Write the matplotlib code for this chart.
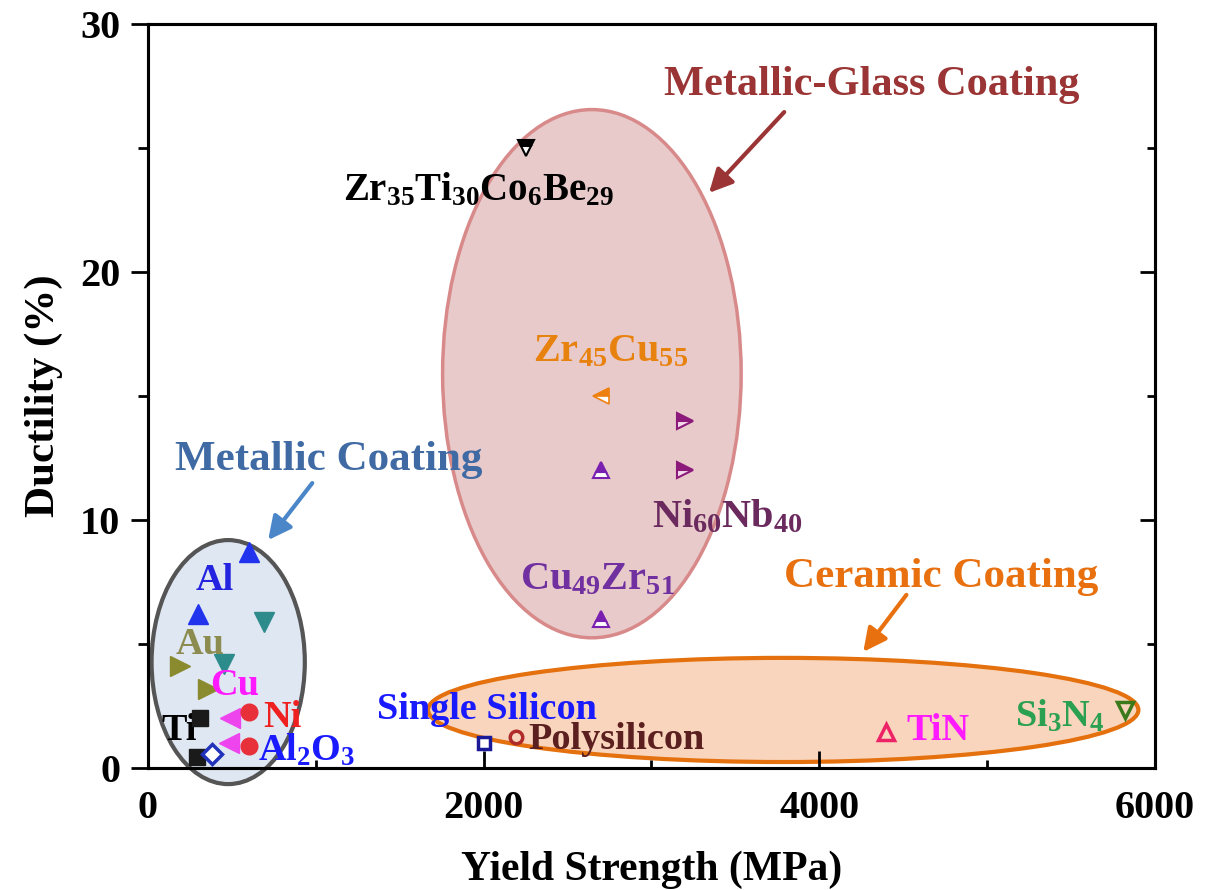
import matplotlib
matplotlib.use("Agg")
import matplotlib.pyplot as plt
from matplotlib.patches import Ellipse
from matplotlib.ticker import MultipleLocator

plt.rcParams['font.family'] = ['Liberation Serif', 'DejaVu Serif']
plt.rcParams['font.weight'] = 'bold'
plt.rcParams['mathtext.fontset'] = 'custom'
plt.rcParams['mathtext.rm'] = 'Liberation Serif:bold'
plt.rcParams['mathtext.bf'] = 'Liberation Serif:bold'
plt.rcParams['mathtext.it'] = 'Liberation Serif:bold'

# ---- data ----
# metallic coatings (x = yield strength MPa, y = ductility %)
al_x = [600, 300]
al_y = [8.7, 6.2]
teal_x = [690, 450]
teal_y = [5.9, 4.2]
au_x = [190, 360]
au_y = [4.1, 3.2]
cu_x = [490, 485]
cu_y = [2.0, 1.0]
ni_x = [600, 600]
ni_y = [2.25, 0.9]
ti_x = [310, 290]
ti_y = [2.0, 0.45]
al2o3_x = [380]
al2o3_y = [0.55]

# metallic glasses
zrti_x = [2250]
zrti_y = [25.0]
zrcu_x = [2700]
zrcu_y = [15.0]
ninb_x = [3200, 3200]
ninb_y = [14.0, 12.0]
cuzr_x = [2700, 2700]
cuzr_y = [12.0, 6.0]

# ceramics / silicon
si_x = [2000]
si_y = [1.0]
poly_x = [2190]
poly_y = [1.25]
tin_x = [4400]
tin_y = [1.45]
si3n4_x = [5820]
si3n4_y = [2.35]

x_ticks = [0, 2000, 4000, 6000]
y_ticks = [0, 10, 20, 30]

fig = plt.figure(figsize=(12.11, 8.90), dpi=100)
ax = fig.add_axes([0.1222, 0.1371, 0.8315, 0.8359])
ax.set_xlim(0, 6000)
ax.set_ylim(0, 30)

# ---- ellipses ----
ax.add_patch(Ellipse((478, 4.27), 913, 9.84, facecolor='#dfe7f3', edgecolor='#555555',
                     lw=3, zorder=1, clip_on=False))
ax.add_patch(Ellipse((2645, 15.9), 1779, 21.3, facecolor='#e8caca', edgecolor='#d88a8a',
                     lw=2.5, zorder=1, clip_on=False))
ax.add_patch(Ellipse((3785, 2.34), 4233, 4.2, facecolor='#f8d5bc', edgecolor='#e4700e',
                     lw=3, zorder=1, clip_on=False))

# ---- markers ----
kw = dict(ls='none', zorder=5, clip_on=False)
ax.plot(al_x, al_y, marker='^', ms=14, color='#2233ee', **kw)
ax.plot(teal_x, teal_y, marker='v', ms=14, color='#2e8b8b', **kw)
ax.plot(au_x, au_y, marker='>', ms=14, color='#8a8a2e', **kw)
ax.plot(cu_x, cu_y, marker='<', ms=14, color='#ee44ee', **kw)
ax.plot(ni_x, ni_y, marker='o', ms=12, color='#e8303a', **kw)
ax.plot(ti_x, ti_y, marker='s', ms=11, color='#1a1a1a', **kw)
ax.plot(al2o3_x, al2o3_y, marker='D', ms=10, mfc='white', mec='#2233bb', mew=2.5, **kw)

ax.plot(zrti_x, zrti_y, marker='v', ms=11, fillstyle='top', color='black',
        markerfacecoloralt='white', mew=1.5, **kw)
ax.plot(zrcu_x, zrcu_y, marker='<', ms=11, fillstyle='top', color='#ee8010',
        markerfacecoloralt='white', mew=1.2, **kw)
ax.plot(ninb_x, ninb_y, marker='>', ms=11, fillstyle='top', color='#8b1a7a',
        markerfacecoloralt='#f4dcec', mew=1.5, **kw)
ax.plot(cuzr_x, cuzr_y, marker='^', ms=12, fillstyle='top', color='#7a20b0',
        markerfacecoloralt='white', mew=1.5, **kw)

ax.plot(si_x, si_y, marker='s', ms=9, mfc='white', mec='#1a1a99', mew=2.5, **kw)
ax.plot(poly_x, poly_y, marker='o', ms=9, mfc='none', mec='#b02a2a', mew=2.5, **kw)
ax.plot(tin_x, tin_y, marker='^', ms=12, mfc='none', mec='#ee2266', mew=2.5, **kw)
ax.plot(si3n4_x, si3n4_y, marker='v', ms=12, mfc='none', mec='#3a7a1a', mew=2.5, **kw)

# ---- labels ----
def lab(x, y, s, c, fs=27.5, z=6):
    ax.text(x, y, s, color=c, fontsize=fs, fontweight='bold', ha='center', va='center',
            zorder=z, clip_on=False)

lab(4310, 27.54, 'Metallic-Glass Coating', '#9b3535', fs=30.5)
lab(1075, 12.42, 'Metallic Coating', '#3f6aa3', fs=31)
lab(4728, 7.70, 'Ceramic Coating', '#e8700f', fs=31)
lab(1970, 23.3, r'$\mathbf{Zr_{35}Ti_{30}Co_{6}Be_{29}}$', 'black', fs=28)
lab(2758, 16.8, r'$\mathbf{Zr_{45}Cu_{55}}$', '#e8820f', fs=29)
lab(3451, 10.1, r'$\mathbf{Ni_{60}Nb_{40}}$', '#6b2a5e', fs=29)
lab(2675, 7.6, r'$\mathbf{Cu_{49}Zr_{51}}$', '#7030a0', fs=29)
lab(2018, 2.34, 'Single Silicon', '#1a1aff')
lab(2794, 1.13, 'Polysilicon', '#5c1f1f')
lab(4710, 1.53, 'TiN', '#ff1aff')
lab(5433, 2.1, r'$\mathbf{Si_{3}N_{4}}$', '#2aa050')
lab(400, 7.58, 'Al', '#2424e0')
lab(310, 4.96, 'Au', '#8c8c50')
lab(519, 3.31, 'Cu', '#ff1aff')
lab(800, 2.02, 'Ni', '#ee2020')
lab(185, 1.53, 'Ti', 'black', z=4)
lab(945, 0.70, r'$\mathbf{Al_{2}O_{3}}$', '#1a1aff')

# ---- arrows ----
def arr(x0, y0, x1, y1, c):
    ax.annotate('', xy=(x1, y1), xytext=(x0, y0),
                arrowprops=dict(arrowstyle='-|>', color=c, lw=3, mutation_scale=35,
                                shrinkA=0, shrinkB=0), zorder=7)

arr(979, 11.49, 716, 9.19, '#4a86c8')
arr(3791, 26.45, 3343, 23.19, '#9b3535')
arr(4519, 6.98, 4262, 4.68, '#e8700f')

# ---- axes styling ----
for sp in ax.spines.values():
    sp.set_linewidth(2.2)
ax.set_xticks(x_ticks)
ax.set_yticks(y_ticks)
ax.xaxis.set_minor_locator(MultipleLocator(1000))
ax.yaxis.set_minor_locator(MultipleLocator(5))
ax.tick_params(axis='x', which='both', direction='in', top=False, bottom=True, width=2,
               labelsize=29, pad=16)
ax.tick_params(axis='x', which='major', length=12)
ax.tick_params(axis='x', which='minor', length=6)
ax.tick_params(axis='y', which='both', direction='out', left=True, right=False, width=2,
               labelsize=29, pad=8)
ax.tick_params(axis='y', which='major', length=12)
ax.tick_params(axis='y', which='minor', length=7)

# right-side inward ticks
ax2 = ax.twinx()
ax2.set_ylim(ax.get_ylim())
ax2.set_yticks(y_ticks)
ax2.yaxis.set_minor_locator(MultipleLocator(5))
ax2.tick_params(axis='y', which='both', direction='in', width=2, labelright=False)
ax2.tick_params(axis='y', which='major', length=11)
ax2.tick_params(axis='y', which='minor', length=6)
for sp in ax2.spines.values():
    sp.set_linewidth(2.2)

for t in ax.get_xticklabels() + ax.get_yticklabels():
    t.set_fontweight('bold')

ax.set_xlabel('Yield Strength (MPa)', fontsize=30, fontweight='bold', labelpad=17)
ax.set_ylabel('Ductility (%)', fontsize=31, fontweight='bold', labelpad=12)

fig.savefig('out.png', dpi=100)
